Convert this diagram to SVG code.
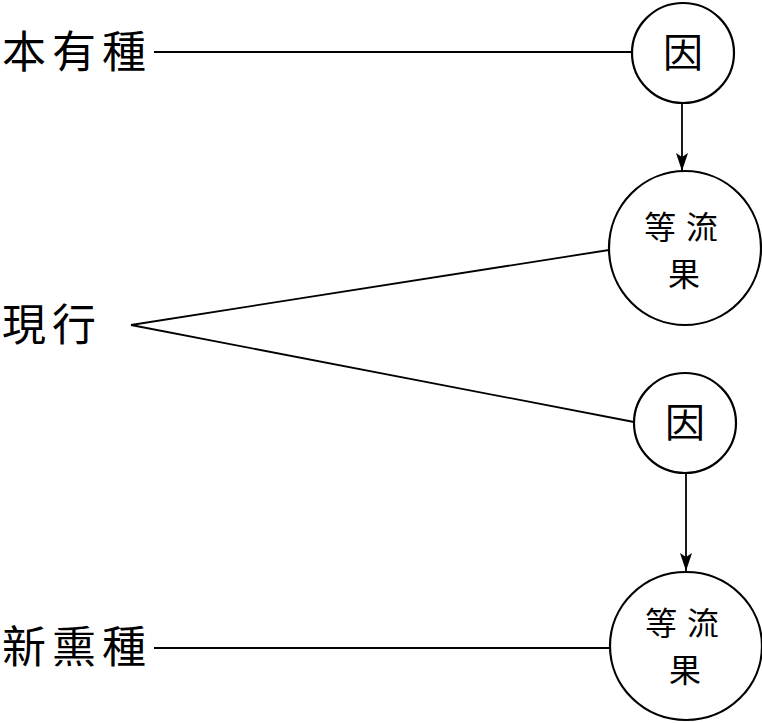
<svg xmlns="http://www.w3.org/2000/svg" width="762" height="723" viewBox="0 0 762 723">
<defs>
<style>
.lbl{font-family:"Noto Sans CJK TC","Noto Sans CJK JP",sans-serif;font-size:44px;fill:#000;letter-spacing:6px}
.in{font-family:"Noto Sans CJK TC","Noto Sans CJK JP",sans-serif;fill:#000;text-anchor:middle}
.node{fill:#fff;stroke:#000;stroke-width:2.2}
.ln{stroke:#000;stroke-width:1.8;fill:none}
</style>
<marker id="ah" viewBox="0 0 18 12" refX="18" refY="6" markerWidth="18" markerHeight="12" markerUnits="userSpaceOnUse" orient="auto">
<path d="M0,0 L18,6 L0,12 L4,6 z" fill="#000"/>
</marker>
</defs>
<rect width="762" height="723" fill="#fff"/>
<g id="connectors">
<line class="ln" x1="154" y1="52" x2="632" y2="52"/>
<line class="ln" x1="682" y1="103" x2="682" y2="171" stroke-width="1.5" marker-end="url(#ah)"/>
<line class="ln" x1="131" y1="325" x2="609" y2="250"/>
<line class="ln" x1="131" y1="325" x2="634" y2="422"/>
<line class="ln" x1="686" y1="473" x2="686" y2="571" stroke-width="2.6" marker-end="url(#ah)"/>
<line class="ln" x1="154" y1="648" x2="610" y2="648"/>
</g>
<g id="label-benyouzhong"><text class="lbl" x="2" y="68">本有種</text></g>
<g id="label-xianxing"><text class="lbl" x="2" y="341">現行</text></g>
<g id="label-xinxunzhong"><text class="lbl" x="2" y="663">新熏種</text></g>
<g id="node-yin1">
<ellipse class="node" cx="683" cy="53" rx="51" ry="50"/>
<text class="in" x="683" y="67" font-size="40">因</text>
</g>
<g id="node-dengliuguo1">
<ellipse class="node" cx="685" cy="248" rx="76" ry="77"/>
<text class="in" x="686" y="239" font-size="32" letter-spacing="10">等流</text>
<text class="in" x="684" y="286" font-size="32">果</text>
</g>
<g id="node-yin2">
<ellipse class="node" cx="685" cy="423" rx="51" ry="50"/>
<text class="in" x="685" y="437" font-size="40">因</text>
</g>
<g id="node-dengliuguo2">
<ellipse class="node" cx="686" cy="646" rx="76" ry="74"/>
<text class="in" x="687" y="635" font-size="32" letter-spacing="10">等流</text>
<text class="in" x="685" y="682" font-size="32">果</text>
</g>
</svg>
